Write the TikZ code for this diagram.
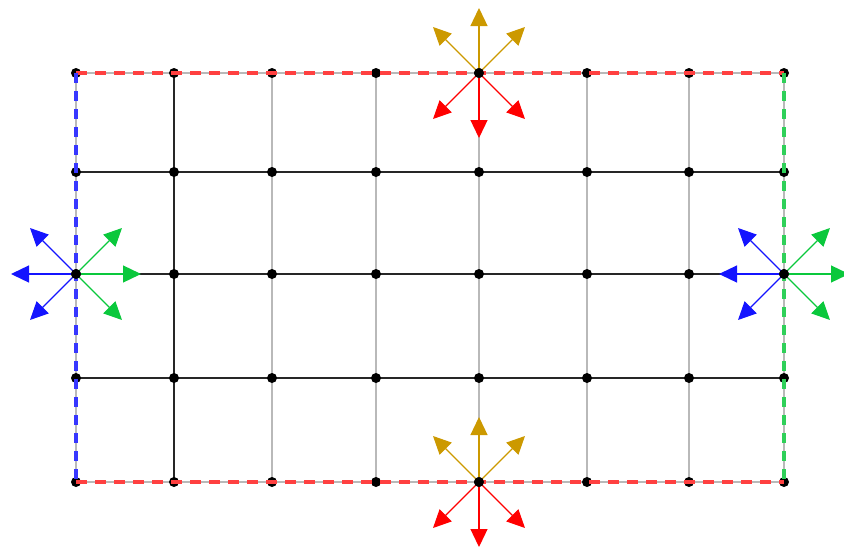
\documentclass[tikz,border=0pt]{standalone}
\usetikzlibrary{arrows.meta}
\definecolor{gold}{RGB}{204,153,0}
\definecolor{myred}{RGB}{255,30,30}
\definecolor{myblue}{RGB}{20,20,255}
\definecolor{mygreen}{RGB}{10,200,60}
\definecolor{gridgray}{RGB}{185,185,185}
\tikzset{
  blackline/.style={draw=black!85, line width=1.1pt},
  grayline/.style={draw=gridgray, line width=1.8pt},
  dashred/.style={draw=myred!85, line width=3.6pt, dash pattern=on 11pt off 8pt},
  dashblue/.style={draw=myblue!85, line width=3.6pt, dash pattern=on 10pt off 8pt},
  dashgreen/.style={draw=mygreen!85, line width=3.6pt, dash pattern=on 10pt off 8pt},
  vec/.style={line width=1.3pt, -{Triangle[length=18pt,width=17pt]}},
  dot/.style={fill=black},
}
\begin{document}
\begin{tikzpicture}[x=1pt,y=-1pt]
\useasboundingbox (0,0) rectangle (844,555);
% grid coordinates
\foreach \x [count=\i from 0] in {76,174,272,376,479,587,689,784}{
  \foreach \y [count=\j from 0] in {73,172,274,378,482}{
    \coordinate (p\i\j) at (\x,\y);
  }
}
% vertical lines
\foreach \i in {0,2,3,4,5,6,7}{ \draw[grayline] (p\i0) -- (p\i4); }
\draw[blackline] (p10) -- (p14);
% horizontal lines
\foreach \j in {0,4}{ \draw[grayline] (p0\j) -- (p7\j); }
\foreach \j in {1,2,3}{ \draw[blackline] (p0\j) -- (p7\j); }
% dots
\foreach \i in {0,...,7}{ \foreach \j in {0,...,4}{ \fill[dot] (p\i\j) circle (5pt); } }
% dashed boundaries
\draw[dashred] (p00) -- (p70);
\draw[dashred] (p04) -- (p74);
\draw[dashblue] (p00) -- (p04);
\draw[dashgreen] (p70) -- (p74);
% arrow end points
\foreach \c in {p40,p44,p02,p72}{
  \coordinate (\c-N)  at ([shift={(0,-65)}]\c);
  \coordinate (\c-S)  at ([shift={(0,65)}]\c);
  \coordinate (\c-E)  at ([shift={(65,0)}]\c);
  \coordinate (\c-W)  at ([shift={(-65,0)}]\c);
  \coordinate (\c-NE) at ([shift={(46,-46)}]\c);
  \coordinate (\c-NW) at ([shift={(-46,-46)}]\c);
  \coordinate (\c-SE) at ([shift={(46,46)}]\c);
  \coordinate (\c-SW) at ([shift={(-46,46)}]\c);
}
% top and bottom: gold up, red down
\foreach \c in {p40,p44}{
  \foreach \d in {N,NE,NW}{ \draw[vec, gold] (\c) -- (\c-\d); }
  \foreach \d in {S,SE,SW}{ \draw[vec, red] (\c) -- (\c-\d); }
}
% left and right: blue left, green right
\foreach \c in {p02,p72}{
  \foreach \d in {W,NW,SW}{ \draw[vec, myblue] (\c) -- (\c-\d); }
  \foreach \d in {E,NE,SE}{ \draw[vec, mygreen] (\c) -- (\c-\d); }
}
% centre dots on top
\foreach \c in {p40,p44,p02,p72}{ \fill[dot] (\c) circle (5pt); }
\end{tikzpicture}
\end{document}
